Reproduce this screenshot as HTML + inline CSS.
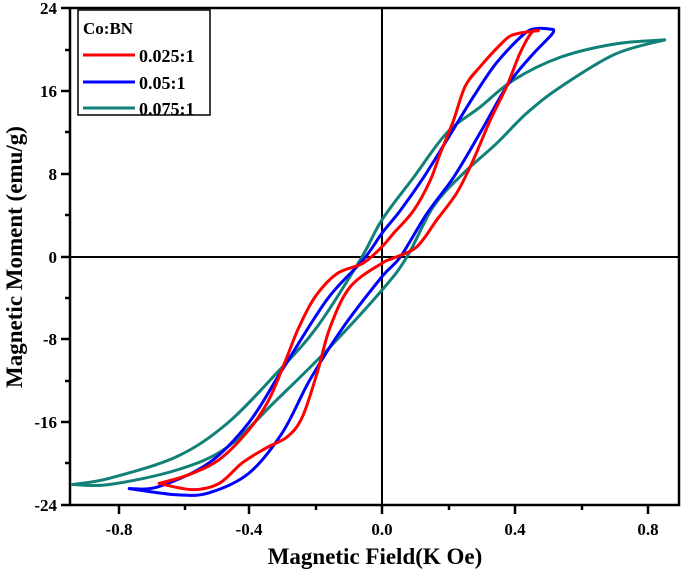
<!DOCTYPE html>
<html><head><meta charset="utf-8"><style>
html,body{margin:0;padding:0;background:#fff;}
svg{display:block;font-family:"Liberation Serif",serif;font-weight:bold;}
</style></head><body>
<svg id="s" width="685" height="572" viewBox="0 0 685 572" xmlns="http://www.w3.org/2000/svg">
<rect x="70" y="8" width="609" height="497" fill="none" stroke="#000" stroke-width="2.5"/>
<line x1="382" y1="8" x2="382" y2="505" stroke="#000" stroke-width="2"/>
<line x1="70" y1="257" x2="679" y2="257" stroke="#000" stroke-width="2"/>
<g stroke="#000" stroke-width="2.5">
<line x1="119" y1="505" x2="119" y2="514"/><line x1="249" y1="505" x2="249" y2="514"/><line x1="382" y1="505" x2="382" y2="514"/><line x1="515" y1="505" x2="515" y2="514"/><line x1="648" y1="505" x2="648" y2="514"/>
<line x1="185" y1="505" x2="185" y2="510"/><line x1="316" y1="505" x2="316" y2="510"/><line x1="449" y1="505" x2="449" y2="510"/><line x1="582" y1="505" x2="582" y2="510"/>
<line x1="61" y1="8" x2="70" y2="8"/><line x1="61" y1="91" x2="70" y2="91"/><line x1="61" y1="174" x2="70" y2="174"/><line x1="61" y1="257" x2="70" y2="257"/><line x1="61" y1="339" x2="70" y2="339"/><line x1="61" y1="422" x2="70" y2="422"/><line x1="61" y1="505" x2="70" y2="505"/>
<line x1="65" y1="50" x2="70" y2="50"/><line x1="65" y1="132" x2="70" y2="132"/><line x1="65" y1="215" x2="70" y2="215"/><line x1="65" y1="298" x2="70" y2="298"/><line x1="65" y1="381" x2="70" y2="381"/><line x1="65" y1="463" x2="70" y2="463"/>
</g>
<g font-size="17" text-anchor="end">
<text x="57" y="14">24</text><text x="57" y="97">16</text><text x="57" y="180">8</text><text x="57" y="263">0</text><text x="57" y="345">-8</text><text x="57" y="428">-16</text><text x="57" y="511">-24</text>
</g>
<g font-size="17" text-anchor="middle">
<text x="119" y="535">-0.8</text><text x="249" y="535">-0.4</text><text x="382" y="535">0.0</text><text x="515" y="535">0.4</text><text x="648" y="535">0.8</text>
</g>
<text x="375" y="564" font-size="23" text-anchor="middle">Magnetic Field(K Oe)</text>
<text transform="translate(22,257) rotate(-90)" font-size="23" text-anchor="middle">Magnetic Moment (emu/g)</text>
<g id="curves" fill="none" stroke-width="3" stroke-linejoin="round" stroke-linecap="round"></g>
<rect x="78" y="10" width="132" height="105" fill="#fff" stroke="#000" stroke-width="1.5"/>
<text x="83" y="34" font-size="17">Co:BN</text>
<line x1="83" y1="55" x2="135" y2="55" stroke="#f00" stroke-width="3"/><text x="139" y="62" font-size="18">0.025:1</text>
<line x1="83" y1="82" x2="135" y2="82" stroke="#00f" stroke-width="3"/><text x="139" y="89" font-size="18">0.05:1</text>
<line x1="83" y1="108" x2="135" y2="108" stroke="#108078" stroke-width="3"/><text x="139" y="115" font-size="18">0.075:1</text>
</svg>
<script>
function X(v){return 382+v*332.5;}function Y(m){return 257-m*10.34;}
function path(pts){var p=pts.map(function(a){return [X(a[0]),Y(a[1])];});var d="M"+p[0][0].toFixed(1)+","+p[0][1].toFixed(1);
for(var i=0;i<p.length-1;i++){var p0=p[i-1]||p[i],p1=p[i],p2=p[i+1],p3=p[i+2]||p2;
d+=" C"+(p1[0]+(p2[0]-p0[0])/6).toFixed(1)+","+(p1[1]+(p2[1]-p0[1])/6).toFixed(1)+" "+(p2[0]-(p3[0]-p1[0])/6).toFixed(1)+","+(p2[1]-(p3[1]-p1[1])/6).toFixed(1)+" "+p2[0].toFixed(1)+","+p2[1].toFixed(1);}return d;}
var S=[
["#108078",[[-0.93,-22],[-0.82,-21.4],[-0.617,-19.3],[-0.466,-16.1],[-0.316,-11.2],[-0.196,-6.8],[-0.066,-0.3],[0,3.6],[0.095,7.7],[0.195,12],[0.295,14.5],[0.395,17.1],[0.535,19.3],[0.7,20.6],[0.85,21]]],
["#108078",[[0.85,21],[0.7,19.6],[0.535,16.4],[0.435,13.9],[0.345,11],[0.245,8.1],[0.155,4.9],[0.075,0],[0,-3.2],[-0.165,-9],[-0.316,-13.8],[-0.466,-18.4],[-0.617,-20.6],[-0.82,-22],[-0.93,-22]]],
["#0000ff",[[0.515,22],[0.465,22.1],[0.425,21.5],[0.345,18.8],[0.275,15.5],[0.195,11.3],[0.125,7.7],[0.055,4.5],[0,2.3],[-0.057,-0.3],[-0.165,-4.1],[-0.3,-10.9],[-0.4,-16],[-0.52,-19.9],[-0.67,-22.2],[-0.76,-22.4]]],
["#0000ff",[[-0.76,-22.4],[-0.617,-23],[-0.52,-22.8],[-0.4,-20.9],[-0.3,-17],[-0.217,-11.9],[-0.117,-6.8],[0,-1.9],[0.055,0],[0.135,4.2],[0.215,7.7],[0.295,12],[0.375,16.5],[0.445,19.3],[0.51,21.5],[0.515,22]]],
["#ff0000",[[0.47,21.9],[0.395,21.5],[0.355,20.5],[0.295,18.4],[0.25,16.5],[0.215,13.2],[0.175,10],[0.145,7.4],[0.095,4.5],[0.035,2.3],[0,1],[-0.057,-0.6],[-0.135,-1.6],[-0.2,-3.8],[-0.25,-6.8],[-0.29,-10],[-0.34,-13.8],[-0.4,-16.7],[-0.49,-19.6],[-0.585,-21.1],[-0.67,-21.9]]],
["#ff0000",[[-0.67,-21.9],[-0.57,-22.5],[-0.49,-21.9],[-0.42,-19.9],[-0.345,-18.4],[-0.285,-17.4],[-0.24,-15.5],[-0.195,-11.2],[-0.156,-6.8],[-0.096,-2.9],[0,-0.6],[0.035,-0.1],[0.105,1],[0.165,3.6],[0.225,6.2],[0.275,9.4],[0.325,13.2],[0.375,16.5],[0.415,19.7],[0.45,21.7],[0.47,21.9]]]];
var g=document.getElementById("curves");
S.forEach(function(s){var e=document.createElementNS("http://www.w3.org/2000/svg","path");e.setAttribute("d",path(s[1]));e.setAttribute("stroke",s[0]);g.appendChild(e);});
</script>
</body></html>
